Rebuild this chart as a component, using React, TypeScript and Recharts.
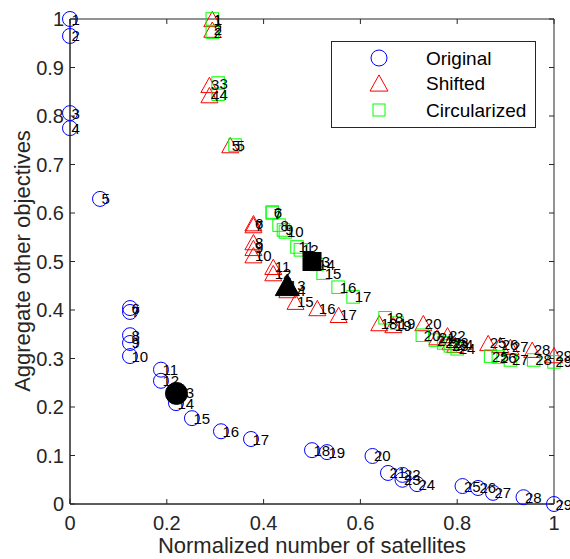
import { Legend, LabelList, ReferenceArea, Scatter, ScatterChart, XAxis, YAxis } from "recharts";

const ids = [1, 2, 3, 4, 5, 6, 7, 8, 9, 10, 11, 12, 13, 14, 15, 16, 17, 18, 19, 20, 21, 22, 23, 24, 25, 26, 27, 28, 29];

const originalX = [0, 0, 0, 0, 0.062, 0.124, 0.124, 0.124, 0.124, 0.124, 0.188, 0.188, 0.219, 0.219, 0.252, 0.312, 0.374, 0.5, 0.531, 0.625, 0.657, 0.687, 0.687, 0.717, 0.811, 0.843, 0.874, 0.937, 1.0];
const originalY = [1.0, 0.965, 0.806, 0.775, 0.629, 0.404, 0.396, 0.348, 0.332, 0.305, 0.277, 0.254, 0.229, 0.208, 0.177, 0.15, 0.134, 0.111, 0.107, 0.099, 0.064, 0.06, 0.05, 0.041, 0.037, 0.033, 0.023, 0.014, 0.0];

const shiftedX = [0.294, 0.294, 0.288, 0.288, 0.331, 0.379, 0.379, 0.379, 0.379, 0.379, 0.42, 0.42, 0.449, 0.449, 0.466, 0.511, 0.555, 0.639, 0.668, 0.73, 0.759, 0.78, 0.786, 0.796, 0.864, 0.889, 0.91, 0.955, 1.0];
const shiftedY = [1.0, 0.978, 0.864, 0.843, 0.74, 0.579, 0.575, 0.54, 0.528, 0.513, 0.489, 0.476, 0.45, 0.441, 0.417, 0.404, 0.39, 0.373, 0.369, 0.373, 0.344, 0.348, 0.334, 0.328, 0.332, 0.328, 0.324, 0.318, 0.307];

const circularX = [0.294, 0.294, 0.306, 0.306, 0.341, 0.418, 0.418, 0.432, 0.441, 0.445, 0.469, 0.476, 0.5, 0.51, 0.523, 0.554, 0.585, 0.651, 0.676, 0.728, 0.755, 0.772, 0.786, 0.8, 0.869, 0.885, 0.91, 0.958, 1.0];
const circularY = [1.0, 0.973, 0.868, 0.845, 0.74, 0.602, 0.6, 0.575, 0.565, 0.561, 0.53, 0.524, 0.5, 0.494, 0.476, 0.447, 0.427, 0.384, 0.373, 0.348, 0.338, 0.332, 0.326, 0.32, 0.305, 0.303, 0.297, 0.297, 0.293];

// chosen designs (filled black markers)
const chosenOriginal = [{ x: 0.22, y: 0.228 }];
const chosenShifted = [{ x: 0.449, y: 0.452 }];
const chosenCircular = [{ x: 0.5, y: 0.5 }];

const xTicks = [0, 0.2, 0.4, 0.6, 0.8, 1];
const xTickLabels = ["0", "0.2", "0.4", "0.6", "0.8", "1"];
const yTicks = [0, 0.1, 0.2, 0.3, 0.4, 0.5, 0.6, 0.7, 0.8, 0.9, 1];
const yTickLabels = ["0", "0.1", "0.2", "0.3", "0.4", "0.5", "0.6", "0.7", "0.8", "0.9", "1"];

const toPoints = (xs: number[], ys: number[]) => xs.map((x, i) => ({ x, y: ys[i], id: ids[i] }));
const original = toPoints(originalX, originalY);
const shifted = toPoints(shiftedX, shiftedY);
const circular = toPoints(circularX, circularY);

const AXIS = "#262626";
const FONT = "Arial, 'Liberation Sans', Helvetica, sans-serif";
const TOP = 19;
const BOTTOM = 504;
const LEFT = 70;
const RIGHT = 554;

const XTick = (props: any) => {
  const { x, index } = props;
  return (
    <g>
      <line x1={x} y1={BOTTOM} x2={x} y2={BOTTOM - 5} stroke={AXIS} />
      <line x1={x} y1={TOP} x2={x} y2={TOP + 5} stroke={AXIS} />
      <text x={x} y={530} textAnchor="middle" fontSize={20} fill={AXIS} fontFamily={FONT}>
        {xTickLabels[index]}
      </text>
    </g>
  );
};

const YTick = (props: any) => {
  const { y, index } = props;
  return (
    <g>
      <line x1={LEFT} y1={y} x2={LEFT + 5} y2={y} stroke={AXIS} />
      <line x1={RIGHT} y1={y} x2={RIGHT - 5} y2={y} stroke={AXIS} />
      <text x={64} y={y} textAnchor="end" dominantBaseline="central" fontSize={20} fill={AXIS} fontFamily={FONT}>
        {yTickLabels[index]}
      </text>
    </g>
  );
};

const circle = (r: number, stroke: string, fill = "none") => (p: any) => (
  <circle cx={p.cx} cy={p.cy} r={r} stroke={stroke} strokeWidth={1} fill={fill} />
);

const triangle = (s: number, stroke: string, fill = "none") => (p: any) => {
  const h = s * 0.9;
  const d = `M${p.cx},${p.cy - h / 2} L${p.cx + s / 2},${p.cy + h / 2} L${p.cx - s / 2},${p.cy + h / 2} Z`;
  return <path d={d} stroke={stroke} strokeWidth={1} fill={fill} />;
};

const square = (s: number, stroke: string, fill = "none") => (p: any) => (
  <rect x={p.cx - s / 2} y={p.cy - s / 2} width={s} height={s} stroke={stroke} strokeWidth={1} fill={fill} />
);

const idLabel = (props: any) => {
  const { x, y, width, height, value } = props;
  const cx = x + (width || 0) / 2;
  const cy = y + (height || 0) / 2;
  return (
    <text x={cx + 1.5} y={cy} dominantBaseline="central" fontSize={15} fill="#000" fontFamily={FONT}>
      {value}
    </text>
  );
};

const legendItems = [
  { name: "Original", shape: circle(8, "#0000ff") },
  { name: "Shifted", shape: triangle(18, "#ff0000") },
  { name: "Circularized", shape: square(12, "#00ff00") },
];

const LegendBox = () => (
  <svg width={205} height={87} style={{ display: "block" }}>
    <rect x={0.5} y={0.5} width={204} height={86} fill="#fff" stroke={AXIS} strokeWidth={1} />
    {legendItems.map((it, i) => {
      const cy = [17, 42, 69][i];
      return (
        <g key={it.name}>
          {it.shape({ cx: 48, cy })}
          <text x={95} y={cy} dominantBaseline="central" fontSize={19} fill="#000" fontFamily={FONT}>
            {it.name}
          </text>
        </g>
      );
    })}
  </svg>
);

export default function App() {
  return (
    <div style={{ position: "absolute", left: 0, top: 0, width: 570, height: 559, background: "#fff" }}>
      <ScatterChart width={570} height={559} margin={{ top: TOP, right: 570 - RIGHT, bottom: 0, left: 0 }}>
        <XAxis
          type="number"
          dataKey="x"
          domain={[0, 1]}
          ticks={xTicks}
          tick={<XTick />}
          tickLine={false}
          axisLine={{ stroke: AXIS }}
          height={559 - BOTTOM}
          label={{
            content: () => (
              <text x={312} y={553} textAnchor="middle" fontSize={22} fill={AXIS} fontFamily={FONT}>
                Normalized number of satellites
              </text>
            ),
          }}
        />
        <YAxis
          type="number"
          dataKey="y"
          domain={[0, 1]}
          ticks={yTicks}
          tick={<YTick />}
          tickLine={false}
          axisLine={{ stroke: AXIS }}
          width={LEFT}
          label={{
            content: () => (
              <text
                x={22}
                y={261}
                textAnchor="middle"
                dominantBaseline="central"
                transform="rotate(-90 22 261)"
                fontSize={22}
                fill={AXIS}
                fontFamily={FONT}
              >
                Aggregate other objectives
              </text>
            ),
          }}
        />
        <ReferenceArea x1={0} x2={1} y1={0} y2={1} fill="none" stroke={AXIS} strokeOpacity={1} />
        <Scatter name="Original" data={original} shape={circle(7.5, "#0000ff")} isAnimationActive={false}>
          <LabelList dataKey="id" content={idLabel} />
        </Scatter>
        <Scatter name="Shifted" data={shifted} shape={triangle(17, "#ff0000")} isAnimationActive={false}>
          <LabelList dataKey="id" content={idLabel} />
        </Scatter>
        <Scatter name="Circularized" data={circular} shape={square(12.5, "#00ff00")} isAnimationActive={false}>
          <LabelList dataKey="id" content={idLabel} />
        </Scatter>
        <Scatter data={chosenOriginal} shape={circle(11, "#000", "#000")} legendType="none" isAnimationActive={false} />
        <Scatter data={chosenShifted} shape={triangle(24, "#000", "#000")} legendType="none" isAnimationActive={false} />
        <Scatter data={chosenCircular} shape={square(18, "#000", "#000")} legendType="none" isAnimationActive={false} />
        <Legend
          layout="vertical"
          align="center"
          verticalAlign="middle"
          content={() => <LegendBox />}
          wrapperStyle={{ position: "absolute", left: 331, top: 41, width: 205, height: 87 }}
        />
      </ScatterChart>
    </div>
  );
}
